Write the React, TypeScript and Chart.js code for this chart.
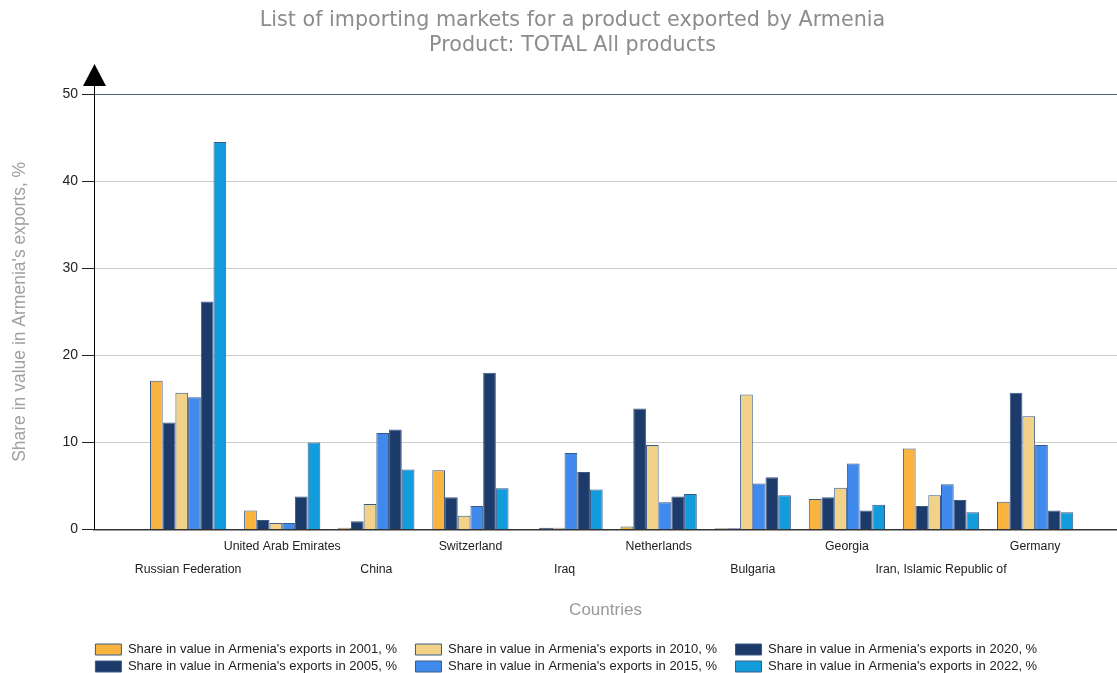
import React, { useEffect, useRef } from "react";
import { Chart, registerables } from "chart.js";

Chart.register(...registerables);

const countries = [
  "Russian Federation",
  "United Arab Emirates",
  "China",
  "Switzerland",
  "Iraq",
  "Netherlands",
  "Bulgaria",
  "Georgia",
  "Iran, Islamic Republic of",
  "Germany",
];

const years = ["2001", "2005", "2010", "2015", "2020", "2022"];

const share2001 = [17.1, 2.2, 0.2, 6.8, 0, 0.35, 0.15, 3.5, 9.3, 3.2];
const share2005 = [12.3, 1.1, 0.95, 3.7, 0.2, 13.9, 0.15, 3.7, 2.7, 15.7];
const share2010 = [15.7, 0.75, 2.95, 1.6, 0.2, 9.7, 15.5, 4.8, 3.95, 13.0];
const share2015 = [15.2, 0.75, 11.1, 2.7, 8.8, 3.15, 5.3, 7.6, 5.2, 9.7];
const share2020 = [26.2, 3.8, 11.5, 18.0, 6.6, 3.8, 6.0, 2.2, 3.4, 2.2];
const share2022 = [44.5, 10.0, 6.9, 4.75, 4.6, 4.1, 3.95, 2.85, 2.0, 2.0];

const seriesValues = [share2001, share2005, share2010, share2015, share2020, share2022];
const seriesColors = ["#f9b33f", "#1c3a6a", "#f2d288", "#418aed", "#1c3a6a", "#139cdc"];
const legendOrder = [0, 2, 4, 1, 3, 5];

const yMin = 0;
const yMax = 50;
const yStep = 10;

const titleLines = [
  "List of importing markets for a product exported by Armenia",
  "Product: TOTAL All products",
];
const yTitle = "Share in value in Armenia's exports, %";
const xTitle = "Countries";

const arrowPlugin = {
  id: "axisArrow",
  afterLayout(chart: any) {
    const lg = chart.legend;
    if (lg) {
      lg.left += 15;
      lg.right += 15;
    }
    const tb = chart.titleBlock;
    if (tb) {
      tb.left += 14;
      tb.right += 14;
    }
  },
  afterDraw(chart: any) {
    const { ctx, chartArea } = chart;
    const left = Math.round(chartArea.left) + 0.5;
    const top = chartArea.top;
    ctx.save();
    ctx.fillStyle = "#000";
    ctx.beginPath();
    ctx.moveTo(left, top - 30);
    ctx.lineTo(left + 11.5, top - 8);
    ctx.lineTo(left - 11.5, top - 8);
    ctx.closePath();
    ctx.fill();
    ctx.strokeStyle = "#000";
    ctx.lineWidth = 1;
    ctx.beginPath();
    ctx.moveTo(left, top - 9);
    ctx.lineTo(left, top);
    ctx.stroke();
    ctx.restore();
  },
};

export default function App() {
  const canvasRef = useRef<HTMLCanvasElement | null>(null);

  useEffect(() => {
    if (!canvasRef.current) return;
    const datasets = seriesValues.map((vals, k) => ({
      label: `Share in value in Armenia's exports in ${years[k]}, %`,
      data: vals.map((v, i) => ({ x: i, y: v })),
      backgroundColor: seriesColors[k],
      borderColor: "#3a5a85",
      borderWidth: 1,
      categoryPercentage: 0.81,
      barPercentage: 1,
    }));

    const chart = new Chart(canvasRef.current, {
      type: "bar",
      data: { datasets },
      plugins: [arrowPlugin],
      options: {
        animation: false,
        responsive: true,
        maintainAspectRatio: false,
        layout: { padding: { left: 0, right: 0, top: 0, bottom: -10 } },
        plugins: {
          tooltip: { enabled: false },
          title: {
            display: true,
            text: titleLines,
            color: "#8c8c8c",
            font: { family: "DejaVu Sans", size: 20.7, weight: "normal", lineHeight: 1.21 },
            padding: { top: 8, bottom: 36 },
          },
          legend: {
            position: "bottom",
            labels: {
              boxWidth: 26,
              boxHeight: 11,
              padding: 4,
              color: "#222",
              font: { family: "Liberation Sans", size: 13 },
              generateLabels: (ch: any) => {
                const items = Chart.defaults.plugins.legend.labels.generateLabels(ch);
                return items.map((it: any) => ({ ...it, text: it.text + "    " }));
              },
              sort: (a: any, b: any) =>
                legendOrder.indexOf(a.datasetIndex) - legendOrder.indexOf(b.datasetIndex),
            },
          },
        },
        scales: {
          x: {
            type: "linear",
            min: -1,
            max: 9.87,
            offset: false,
            grid: { display: false, drawTicks: false },
            border: { display: true, color: "#333", width: 1.5 },
            afterBuildTicks: (s: any) => {
              s.ticks = countries.map((_, i) => ({ value: i }));
            },
            ticks: {
              autoSkip: false,
              maxRotation: 0,
              minRotation: 0,
              padding: 6,
              color: "#222",
              font: { family: "Liberation Sans", size: 12.3, lineHeight: 1.87 },
              callback: (v: any) => {
                const i = Math.round(Number(v));
                const name = countries[i] ?? "";
                return i % 2 === 0 ? ["", name] : [name, ""];
              },
            },
            title: {
              display: true,
              text: xTitle,
              color: "#999",
              font: { family: "Liberation Sans", size: 17 },
              padding: { top: 13, bottom: 18 },
            },
          },
          y: {
            min: yMin,
            max: yMax,
            afterFit: (s: any) => {
              s.width = 94;
            },
            ticks: {
              stepSize: yStep,
              padding: 4,
              color: "#222",
              font: { family: "Liberation Sans", size: 14 },
            },
            grid: {
              color: (c: any) =>
                c.tick && c.tick.value === yMax ? "#4c5d7a" : "#cccccc",
              tickColor: "#222",
              tickLength: 12,
              lineWidth: 1,
            },
            border: { display: true, color: "#000", width: 1 },
            title: {
              display: true,
              text: yTitle,
              color: "#a0a0a0",
              font: { family: "Liberation Sans", size: 17.5 },
              padding: { top: 10, bottom: 0 },
            },
          },
        },
      } as any,
    });
    return () => chart.destroy();
  }, []);

  return (
    <div style={{ position: "absolute", left: 0, top: 0, width: 1117, height: 673, background: "#fff" }}>
      <canvas ref={canvasRef} />
    </div>
  );
}
